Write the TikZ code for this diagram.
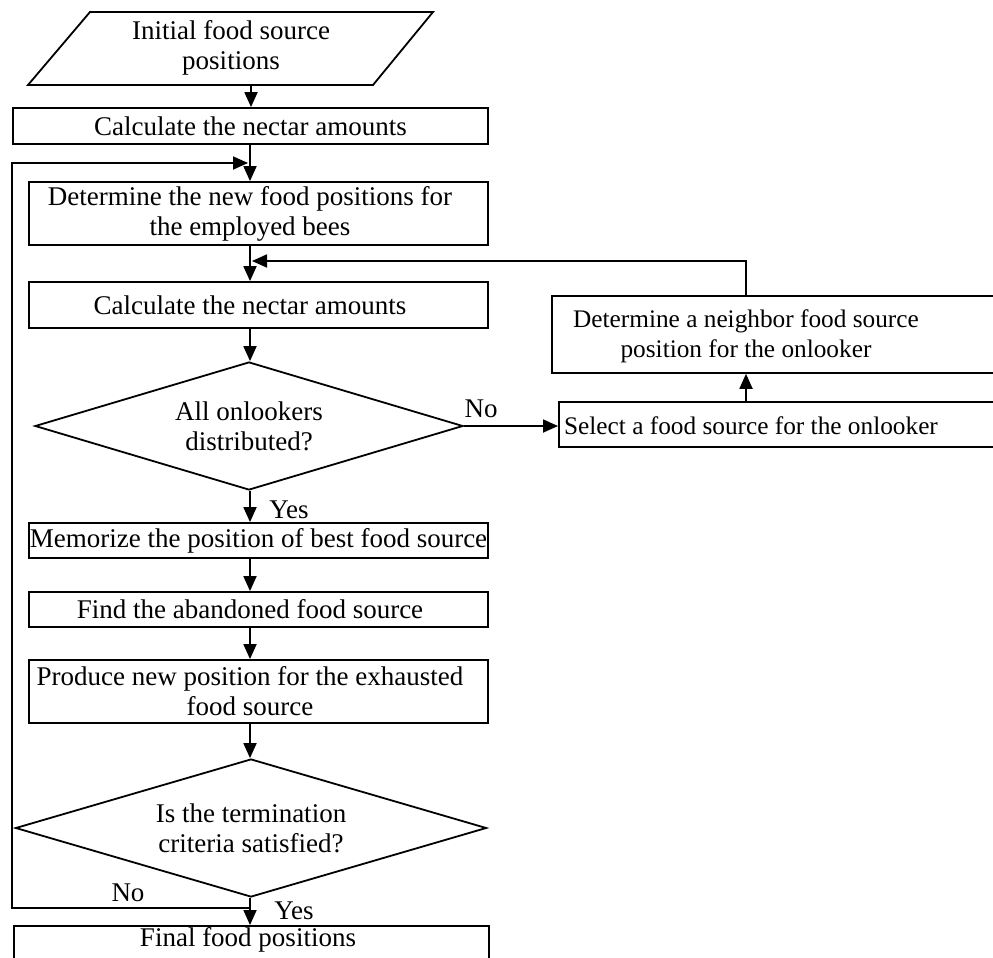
\documentclass[tikz,border=0pt]{standalone}
\usepackage{fontspec}
\setmainfont{Liberation Serif}
\usetikzlibrary{shapes.geometric,arrows.meta}
\newcommand{\padR}{\hspace*{17pt}}
\begin{document}
\begin{tikzpicture}[x=1pt,y=-1pt,line width=1.8pt,
  fnt/.style={font=\fontsize{27}{30}\selectfont},
  sfnt/.style={font=\fontsize{25.3}{30}\selectfont},
  box/.style={draw,rectangle,inner sep=0pt,align=center,fnt},
  txt/.style={inner sep=0pt,align=center,fnt},
  dec/.style={draw,diamond,inner sep=0pt,align=center,fnt},
  lbl/.style={inner sep=0pt,fnt},
  arr/.style={-{Triangle[length=15pt,width=13pt]}}]
\useasboundingbox (0,0) rectangle (993,958);
\clip (0,0) rectangle (993,958);
% helper coordinates
\coordinate (sp) at (250,0);
\coordinate (vx) at (746,0);
\coordinate (lx) at (12,0);
% start parallelogram
\coordinate (p1) at (90,12);
\coordinate (p2) at (433,12);
\coordinate (p3) at (373,85);
\coordinate (p4) at (28,85);
\draw (p1) -- (p2) -- (p3) -- (p4) -- cycle;
\node[txt] (init) at (231,48) {Initial food source\\positions};
\coordinate (pb) at (251,85);
% main column
\node[box,minimum width=475pt,minimum height=36pt] (b1) at (250.5,126) {Calculate the nectar amounts};
\node[box,minimum width=459pt,minimum height=63pt] (b2) at (258.5,213.5) {Determine the new food positions for\padR\\the employed bees\padR};
\node[box,minimum width=459pt,minimum height=46pt] (b3) at (258.5,305) {Calculate the nectar amounts\padR};
\node[dec,minimum width=428pt,minimum height=128pt,aspect=3.34] (d1) at (249,426) {All onlookers\\distributed?};
\node[box,minimum width=459pt,minimum height=35pt] (memo) at (258.5,540.5) {Memorize the position of best food source};
\node[box,minimum width=459pt,minimum height=35pt] (find) at (258.5,609.5) {Find the abandoned food source\padR};
\node[box,minimum width=459pt,minimum height=63pt] (prod) at (258.5,691.5) {Produce new position for the exhausted\padR\\food source\padR};
\node[dec,minimum width=471pt,minimum height=138pt,aspect=3.41] (d2) at (251,828) {Is the termination\\criteria satisfied?};
\node[box,anchor=north west,minimum width=475pt,minimum height=50pt] (fin) at (13,925) {};
\node[txt] (fint) at (248,940) {Final food positions};
% right branch
\node[box,anchor=north west,minimum width=470pt,minimum height=77pt] (nb) at (551,295) {};
\node[txt,sfnt] (nbt) at (746,336) {Determine a neighbor food source\\position for the onlooker};
\node[box,anchor=north west,minimum width=470pt,minimum height=45pt] (sel) at (558,401) {};
\node[txt,sfnt] (selt) at (751,426) {Select a food source for the onlooker};
% labels
\node[lbl] (no1) at (481,409) {No};
\node[lbl] (yes1) at (289,510) {Yes};
\node[lbl] (no2) at (128,893) {No};
\node[lbl] (yes2) at (294,911) {Yes};
% junctions
\coordinate (j1) at (248,163);
\coordinate (j2) at (252,261);
\coordinate (j3) at (250,908);
% connectors
\draw[arr] (pb) -- (b1.north -| pb);
\draw[arr] (b1.south -| sp) -- (b2.north -| sp);
\draw[arr] (b2.south -| sp) -- (b3.north -| sp);
\draw[arr] (b3.south -| sp) -- (d1.north -| sp);
\draw[arr] (d1.south -| sp) -- (memo.north -| sp);
\draw[arr] (memo.south -| sp) -- (find.north -| sp);
\draw[arr] (find.south -| sp) -- (prod.north -| sp);
\draw[arr] (prod.south -| sp) -- (d2.north -| sp);
\draw[arr] (d2.south -| sp) -- (fin.north -| sp);
\draw[arr] (j3) -- (j3 -| lx) -- (j1 -| lx) -- (j1);
\draw[arr] (d1.east) -- (d1.east -| sel.west);
\draw[arr] (sel.north -| vx) -- (nb.south -| vx);
\draw[arr] (nb.north -| vx) |- (j2);
\end{tikzpicture}
\end{document}
